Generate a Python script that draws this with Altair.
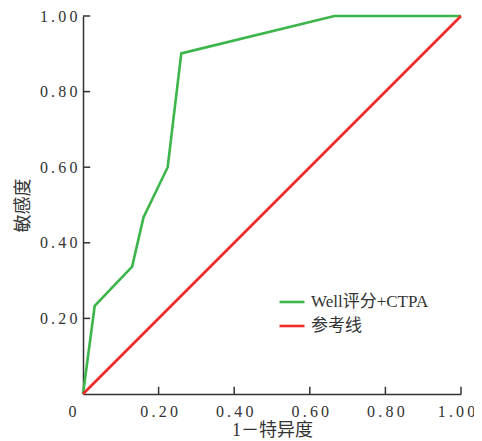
import altair as alt
import pandas as pd

# ROC curve data
roc_x = [0.0, 0.031, 0.130, 0.160, 0.224, 0.260, 0.665, 1.0]
roc_y = [0.0, 0.233, 0.337, 0.467, 0.600, 0.901, 1.0, 1.0]
ref_x = [0.0, 1.0]
ref_y = [0.0, 1.0]
series_names = ["Well评分+CTPA", "参考线"]
series_colors = ["#3cb54a", "#ee2a2a"]
tick_values = [0, 0.2, 0.4, 0.6, 0.8, 1.0]

rows = []
for i, (a, b) in enumerate(zip(roc_x, roc_y)):
    rows.append({"x": a, "y": b, "s": series_names[0], "o": i})
for i, (a, b) in enumerate(zip(ref_x, ref_y)):
    rows.append({"x": a, "y": b, "s": series_names[1], "o": i})
df = pd.DataFrame(rows)
ticks_df = pd.DataFrame({"t": tick_values[1:]})

FONT = "Liberation Serif, Noto Sans CJK SC"
label_expr_x = "datum.value == 0 ? '0' : replace(format(datum.value, '.2f'), regexp('(.)(?=.)', 'g'), '$1\u2009')"
label_expr_y = "datum.value == 0 ? '' : replace(format(datum.value, '.2f'), regexp('(.)(?=.)', 'g'), '$1\u2009')"

xscale = alt.Scale(domain=[0, 1], nice=False)
yscale = alt.Scale(domain=[0, 1], nice=False)

lines = alt.Chart(df).mark_line(strokeWidth=2.6, clip=False).encode(
    x=alt.X("x:Q", scale=xscale, title="1－特异度",
            axis=alt.Axis(values=tick_values, labelExpr=label_expr_x, tickSize=0,
                          labelPadding=9, titlePadding=2, labelFlush=False,
                          labelOffset={"expr": "datum.value == 0 ? -11 : (datum.value == 1 ? -5 : 0)"},
                          grid=False)),
    y=alt.Y("y:Q", scale=yscale, title="敏感度",
            axis=alt.Axis(values=tick_values, labelExpr=label_expr_y, tickSize=0,
                          labelPadding=6, titlePadding=7, labelFlush=False, grid=False)),
    color=alt.Color("s:N", scale=alt.Scale(domain=series_names, range=series_colors),
                    legend=alt.Legend(title=None, orient="none", legendX=195, legendY=272,
                                      symbolType="stroke", symbolSize=625, symbolStrokeWidth=2.6,
                                      labelFont=FONT, labelFontSize=17, labelColor="#333333",
                                      labelOffset=5)),
    order="o:Q",
)

xticks = alt.Chart(ticks_df).mark_rule(color="#333333", strokeWidth=1.5).encode(
    x=alt.X("t:Q", scale=xscale),
    y=alt.datum(0, scale=yscale),
    y2=alt.datum(0.019),
)
yticks = alt.Chart(ticks_df).mark_rule(color="#333333", strokeWidth=1.5).encode(
    y=alt.Y("t:Q", scale=yscale),
    x=alt.datum(0, scale=xscale),
    x2=alt.datum(0.019),
)

chart = alt.layer(xticks, yticks, lines).properties(
    width=378, height=378,
    padding={"left": 75, "top": 8, "right": 13, "bottom": 46},
    autosize=alt.AutoSizeParams(type="none"),
).configure_view(stroke=None).configure_axis(
    domainColor="#333333", domainWidth=1.5,
    labelFont=FONT, labelFontSize=16, labelColor="#333333",
    titleFont=FONT, titleFontSize=18, titleColor="#333333", titleFontWeight="normal",
).configure_axisX(domain=True)

chart.save("out.html", embed_options={"renderer": "svg", "actions": False})
